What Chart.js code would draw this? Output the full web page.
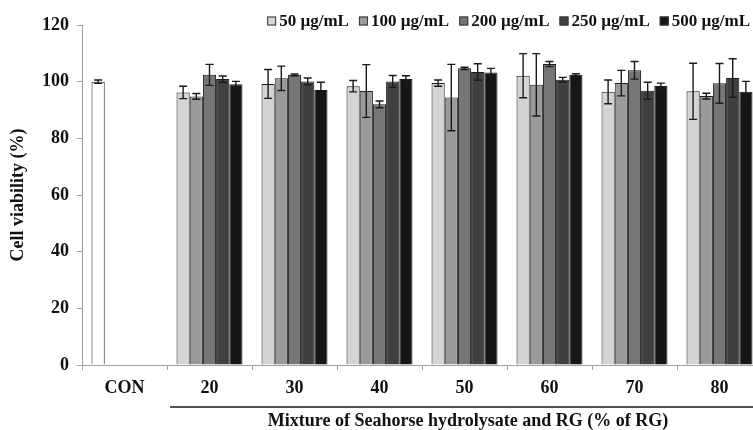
<!DOCTYPE html>
<html>
<head>
<meta charset="utf-8">
<script src="https://cdn.jsdelivr.net/npm/chart.js@4.4.1/dist/chart.umd.min.js"></script>
<style>
  html, body { margin: 0; padding: 0; overflow: hidden; background: #fff; }
  #wrap { width: 770px; height: 430px; }
</style>
</head>
<body>
<div id="wrap"><canvas id="viabilityChart"></canvas></div>
<script>
const categories = ['CON', '20', '30', '40', '50', '60', '70', '80'];
const seriesLabels = ['50 µg/mL', '100 µg/mL', '200 µg/mL', '250 µg/mL', '500 µg/mL'];

// mean cell viability (%) per concentration, CON only on the first series
const v50  = [100, 96.2, 99.2, 98.4, 99.5, 102.1, 96.4, 96.6];
const v100 = [null, 94.8, 101.2, 96.7, 94.4, 98.9, 99.5, 94.9];
const v200 = [null, 102.4, 102.4, 92.0, 104.7, 106.2, 104.0, 99.4];
const v250 = [null, 100.9, 100.1, 100.1, 103.4, 100.7, 96.8, 101.3];
const v500 = [null, 99.1, 97.1, 100.9, 103.2, 102.4, 98.5, 96.4];

// error bar half-lengths
const e50  = [0.6, 2.2, 5.1, 2.0, 1.1, 7.8, 4.2, 9.9];
const e100 = [null, 1.0, 4.3, 9.3, 11.7, 11.0, 4.5, 1.0];
const e200 = [null, 3.7, 0.3, 1.2, 0.4, 0.9, 3.1, 7.0];
const e250 = [null, 1.1, 1.2, 2.1, 2.9, 0.8, 3.0, 6.8];
const e500 = [null, 1.0, 2.7, 1.2, 1.5, 0.4, 1.0, 3.7];

const yTicks = [0, 20, 40, 60, 80, 100, 120];
const xGroupTitle = 'Mixture of Seahorse hydrolysate and RG (% of RG)';

const seriesColors = ['#d3d4d3', '#9a9a9a', '#767676', '#404040', '#161616'];
const conColor = '#ffffff';
const axisGray = '#a0a0a0';
const textColor = '#111111';
const serif = '"Liberation Serif", "Times New Roman", serif';
const boldFont = { family: serif, size: 18, weight: 'bold' };

const values = [v50, v100, v200, v250, v500];
const errors = [e50, e100, e200, e250, e500];

const datasets = seriesLabels.map((label, i) => ({
  label: label,
  data: values[i],
  errors: errors[i],
  backgroundColor: i === 0
    ? categories.map(c => c === 'CON' ? conColor : seriesColors[0])
    : seriesColors[i],
  borderColor: '#1a1a1a',
  borderWidth: 1,
  categoryPercentage: 0.776,
  barPercentage: 1.0
}));

const errorBars = {
  id: 'errorBars',
  afterDatasetsDraw(chart) {
    const ctx = chart.ctx;
    const y = chart.scales.y;
    ctx.save();
    ctx.strokeStyle = '#1a1a1a';
    ctx.lineWidth = 1.4;
    chart.data.datasets.forEach((ds, i) => {
      const meta = chart.getDatasetMeta(i);
      meta.data.forEach((bar, j) => {
        const v = ds.data[j];
        const e = ds.errors[j];
        if (v == null || e == null) return;
        const top = y.getPixelForValue(v + e);
        const bot = y.getPixelForValue(v - e);
        ctx.beginPath();
        ctx.moveTo(bar.x, top);
        ctx.lineTo(bar.x, bot);
        ctx.moveTo(bar.x - 4, top);
        ctx.lineTo(bar.x + 4, top);
        ctx.moveTo(bar.x - 4, bot);
        ctx.lineTo(bar.x + 4, bot);
        ctx.stroke();
      });
    });
    ctx.restore();
  }
};

const topLegend = {
  id: 'topLegend',
  afterDraw(chart) {
    const ctx = chart.ctx;
    const box = 9, gap = 3, space = 10, yc = 21;
    ctx.save();
    ctx.font = 'bold 17px ' + serif;
    ctx.textBaseline = 'middle';
    const widths = seriesLabels.map(t => box + gap + ctx.measureText(t).width);
    let x = 750 - widths.reduce((a, b) => a + b, 0) - space * (widths.length - 1);
    seriesLabels.forEach((t, i) => {
      ctx.fillStyle = seriesColors[i];
      ctx.fillRect(x, yc - box / 2, box, box);
      ctx.strokeStyle = '#333333';
      ctx.lineWidth = 1;
      ctx.strokeRect(x + 0.5, yc - box / 2 + 0.5, box - 1, box - 1);
      ctx.fillStyle = textColor;
      ctx.fillText(t, x + box + gap, yc + 1);
      x += widths[i] + space;
    });
    ctx.restore();
  }
};

const groupTitle = {
  id: 'groupTitle',
  afterDraw(chart) {
    const ctx = chart.ctx;
    const xs = chart.scales.x;
    const half = (xs.getPixelForValue(1) - xs.getPixelForValue(0)) / 2;
    const left = xs.getPixelForValue(1) - half + 3;
    const right = xs.getPixelForValue(categories.length - 1) + half;
    const lineY = xs.top + 42;
    ctx.save();
    ctx.strokeStyle = '#1a1a1a';
    ctx.lineWidth = 1.5;
    ctx.beginPath();
    ctx.moveTo(left, lineY);
    ctx.lineTo(right + 10, lineY);
    ctx.stroke();
    ctx.font = 'bold 18px ' + serif;
    ctx.fillStyle = textColor;
    ctx.textAlign = 'center';
    ctx.textBaseline = 'middle';
    ctx.fillText(xGroupTitle, (left + right) / 2 + 2, xs.top + 56);
    ctx.restore();
  }
};

new Chart(document.getElementById('viabilityChart'), {
  type: 'bar',
  data: { labels: categories, datasets: datasets },
  plugins: [errorBars, topLegend, groupTitle],
  options: {
    responsive: true,
    maintainAspectRatio: false,
    animation: false,
    layout: { padding: { top: 25, right: 8, left: 0, bottom: 0 } },
    plugins: {
      legend: { display: false },
      tooltip: { enabled: false }
    },
    scales: {
      x: {
        ticks: { color: textColor, font: boldFont, padding: 8, autoSkip: false, maxRotation: 0 },
        grid: { drawOnChartArea: false, tickLength: 5, color: axisGray, offset: true },
        border: { color: axisGray },
        afterFit: s => { s.height = 65; }
      },
      y: {
        min: 0,
        max: 120,
        afterBuildTicks: s => { s.ticks = yTicks.map(v => ({ value: v })); },
        ticks: { color: textColor, font: boldFont, padding: 8 },
        grid: { drawOnChartArea: false, tickLength: 5, color: axisGray },
        border: { color: axisGray },
        title: { display: true, text: 'Cell viability (%)', color: textColor, font: boldFont, padding: { top: 8, bottom: 0 } },
        afterFit: s => { s.width = 82; }
      }
    }
  }
});
</script>
</body>
</html>
